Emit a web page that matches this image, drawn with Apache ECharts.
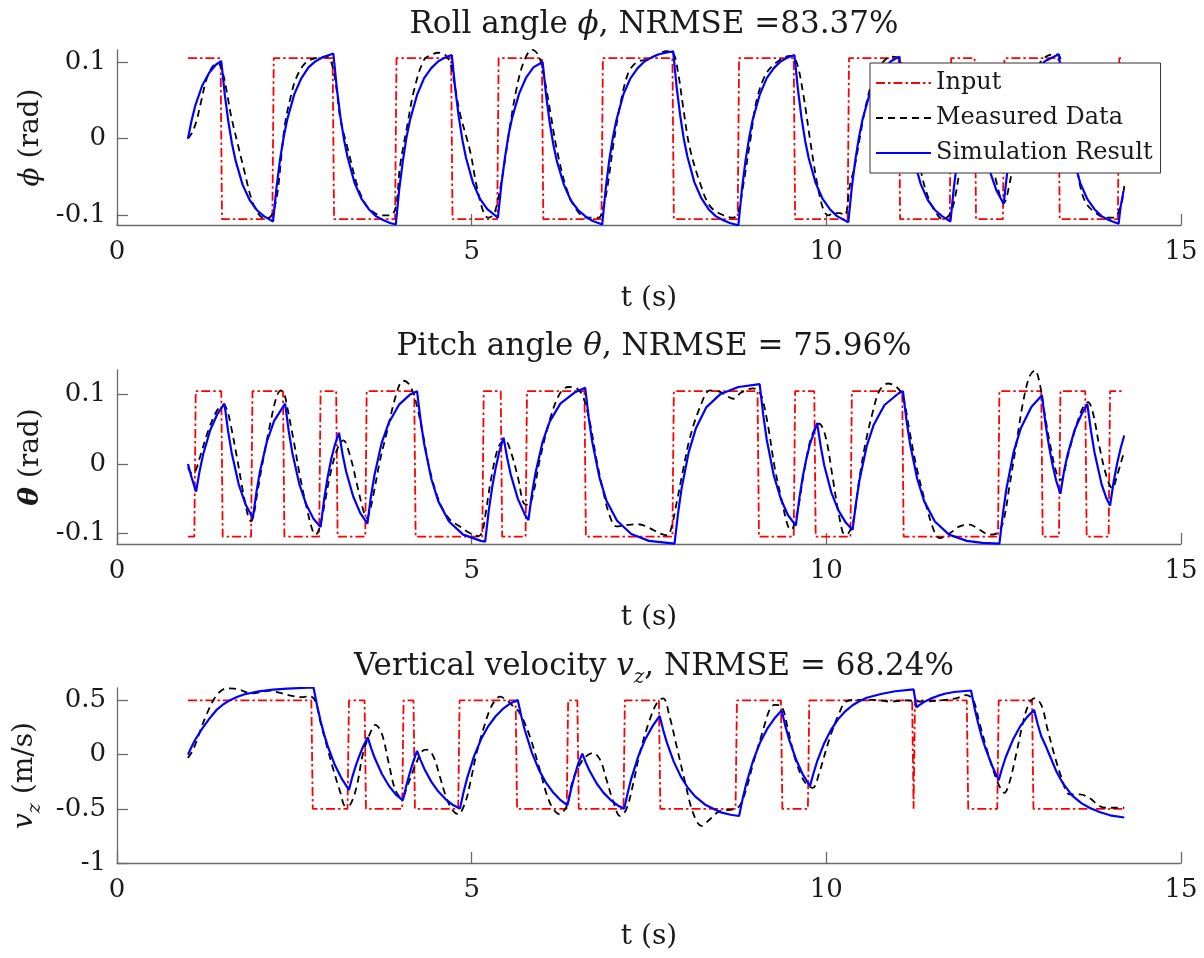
<!DOCTYPE html>
<html><head><meta charset="utf-8">
<script src="https://cdn.jsdelivr.net/npm/echarts@6/dist/echarts.min.js"></script>
<style>html,body{margin:0;padding:0;background:#fff}#c{width:1204px;height:958px}</style>
</head><body><div id="c"></div>
<script>
// ---------- data (t in s, value) ----------
const rollInput = [[1.0,0.105],[1.46,0.105],[1.48,-0.105],[2.19,-0.105],[2.21,0.105],[3.04,0.105],[3.06,-0.105],[3.92,-0.105],[3.94,0.105],[4.71,0.105],[4.73,-0.105],[5.36,-0.105],[5.38,0.105],[5.99,0.105],[6.01,-0.105],[6.83,-0.105],[6.85,0.105],[7.83,0.105],[7.85,-0.105],[8.75,-0.105],[8.77,0.105],[9.54,0.105],[9.56,-0.105],[10.30,-0.105],[10.32,0.105],[11.02,0.105],[11.04,-0.105],[11.74,-0.105],[11.76,0.105],[12.09,0.105],[12.11,-0.105],[12.49,-0.105],[12.51,0.105],[13.27,0.105],[13.29,-0.105],[14.11,-0.105],[14.13,0.105],[14.19,0.105]];
const rollMeasured = [[1.0,0],[1.06,0.008],[1.12,0.023],[1.19,0.05],[1.26,0.077],[1.34,0.093],[1.42,0.099],[1.49,0.086],[1.55,0.06],[1.61,0.029],[1.71,-0.01],[1.8,-0.044],[1.9,-0.08],[2.0,-0.099],[2.08,-0.104],[2.16,-0.102],[2.22,-0.09],[2.27,-0.065],[2.32,-0.02],[2.37,0.02],[2.45,0.055],[2.53,0.08],[2.66,0.099],[2.8,0.105],[2.95,0.107],[3.02,0.1],[3.09,0.068],[3.15,0.025],[3.25,-0.012],[3.39,-0.062],[3.5,-0.085],[3.6,-0.095],[3.72,-0.1],[3.85,-0.1],[3.93,-0.09],[3.99,-0.036],[4.09,0.016],[4.19,0.064],[4.33,0.103],[4.45,0.11],[4.53,0.112],[4.63,0.109],[4.7,0.098],[4.74,0.081],[4.835,0.033],[4.98,-0.017],[5.07,-0.062],[5.17,-0.097],[5.23,-0.103],[5.3,-0.1],[5.35,-0.088],[5.44,-0.045],[5.54,0.016],[5.63,0.064],[5.73,0.099],[5.85,0.116],[5.94,0.109],[6.01,0.086],[6.11,0.034],[6.2,-0.014],[6.34,-0.066],[6.48,-0.093],[6.62,-0.103],[6.79,-0.103],[6.86,-0.088],[6.93,-0.053],[7.0,-0.006],[7.1,0.047],[7.21,0.086],[7.33,0.1],[7.47,0.103],[7.61,0.109],[7.75,0.114],[7.84,0.112],[7.91,0.086],[7.98,0.042],[8.07,-0.01],[8.22,-0.058],[8.36,-0.088],[8.55,-0.1],[8.69,-0.103],[8.76,-0.095],[8.83,-0.06],[8.93,-0.001],[9.02,0.051],[9.16,0.086],[9.35,0.103],[9.49,0.108],[9.58,0.1],[9.68,0.055],[9.77,-0.001],[9.87,-0.058],[9.96,-0.093],[10.03,-0.1],[10.1,-0.097],[10.19,-0.097],[10.26,-0.1],[10.33,-0.062],[10.4,-0.036],[10.47,0.0],[10.55,0.04],[10.65,0.075],[10.78,0.098],[10.92,0.107],[11.02,0.105],[11.1,0.085],[11.2,0.035],[11.34,-0.045],[11.45,-0.08],[11.55,-0.097],[11.64,-0.105],[11.73,-0.1],[11.8,-0.083],[11.9,-0.03],[12.0,0.02],[12.1,0.05],[12.18,0.04],[12.28,-0.005],[12.38,-0.05],[12.5,-0.084],[12.6,-0.051],[12.7,0.0],[12.8,0.05],[12.95,0.09],[13.1,0.107],[13.25,0.11],[13.33,0.095],[13.43,0.04],[13.5,-0.01],[13.57,-0.058],[13.66,-0.084],[13.8,-0.097],[13.94,-0.103],[14.05,-0.103],[14.15,-0.088],[14.2,-0.062]];
const rollSim = [[1.0,0],[1.05,0.023],[1.1,0.042],[1.2,0.069],[1.3,0.086],[1.4,0.097],[1.47,0.101],[1.52,0.057],[1.57,0.022],[1.62,-0.006],[1.67,-0.028],[1.77,-0.060],[1.87,-0.080],[1.97,-0.093],[2.07,-0.101],[2.2,-0.108],[2.25,-0.063],[2.3,-0.026],[2.35,0.002],[2.4,0.025],[2.5,0.058],[2.6,0.079],[2.7,0.093],[2.8,0.101],[2.9,0.106],[3.05,0.111],[3.1,0.065],[3.15,0.028],[3.2,-0.001],[3.25,-0.024],[3.35,-0.058],[3.45,-0.079],[3.55,-0.092],[3.65,-0.101],[3.75,-0.106],[3.85,-0.11],[3.93,-0.112],[3.98,-0.065],[4.03,-0.029],[4.08,0.001],[4.13,0.024],[4.23,0.057],[4.33,0.079],[4.43,0.092],[4.53,0.101],[4.63,0.106],[4.72,0.109],[4.77,0.064],[4.82,0.027],[4.87,-0.002],[4.92,-0.025],[5.02,-0.058],[5.12,-0.079],[5.22,-0.092],[5.37,-0.103],[5.42,-0.059],[5.47,-0.024],[5.52,0.005],[5.57,0.027],[5.67,0.059],[5.77,0.08],[5.87,0.093],[6.0,0.1],[6.05,0.056],[6.1,0.021],[6.15,-0.007],[6.2,-0.029],[6.3,-0.06],[6.4,-0.081],[6.5,-0.093],[6.6,-0.101],[6.7,-0.107],[6.84,-0.112],[6.89,-0.065],[6.94,-0.028],[6.99,0.001],[7.04,0.024],[7.14,0.058],[7.24,0.079],[7.34,0.092],[7.44,0.101],[7.54,0.106],[7.64,0.11],[7.84,0.114],[7.89,0.067],[7.94,0.03],[7.99,0.0],[8.04,-0.023],[8.14,-0.057],[8.24,-0.078],[8.34,-0.092],[8.44,-0.101],[8.54,-0.106],[8.64,-0.11],[8.76,-0.113],[8.81,-0.066],[8.86,-0.029],[8.91,0.0],[8.96,0.024],[9.06,0.057],[9.16,0.079],[9.26,0.092],[9.36,0.101],[9.46,0.106],[9.55,0.109],[9.6,0.064],[9.65,0.027],[9.7,-0.002],[9.75,-0.025],[9.85,-0.058],[9.95,-0.079],[10.05,-0.092],[10.15,-0.101],[10.31,-0.109],[10.36,-0.063],[10.41,-0.027],[10.46,0.002],[10.51,0.025],[10.61,0.058],[10.71,0.079],[10.81,0.092],[10.91,0.101],[11.03,0.107],[11.08,0.062],[11.13,0.026],[11.18,-0.003],[11.23,-0.026],[11.33,-0.059],[11.43,-0.08],[11.53,-0.093],[11.63,-0.101],[11.75,-0.108],[11.8,-0.062],[11.85,-0.026],[11.9,0.003],[11.95,0.026],[12.0,0.044],[12.1,0.07],[12.15,0.032],[12.2,0.002],[12.25,-0.022],[12.3,-0.041],[12.4,-0.068],[12.5,-0.085],[12.55,-0.044],[12.6,-0.012],[12.65,0.014],[12.7,0.035],[12.8,0.064],[12.9,0.083],[13.0,0.095],[13.1,0.102],[13.28,0.11],[13.33,0.064],[13.38,0.028],[13.43,-0.002],[13.48,-0.025],[13.58,-0.058],[13.68,-0.079],[13.78,-0.092],[13.88,-0.101],[13.98,-0.106],[14.12,-0.111],[14.15,-0.088],[14.19,-0.068]];

const pitchInput = [[1.0,-0.105],[1.09,-0.105],[1.11,0.105],[1.47,0.105],[1.49,-0.105],[1.89,-0.105],[1.91,0.105],[2.34,0.105],[2.36,-0.105],[2.85,-0.105],[2.87,0.105],[3.09,0.105],[3.11,-0.105],[3.5,-0.105],[3.52,0.105],[4.19,0.105],[4.21,-0.105],[5.15,-0.105],[5.17,0.105],[5.41,0.105],[5.43,-0.105],[5.76,-0.105],[5.78,0.105],[6.59,0.105],[6.61,-0.105],[7.83,-0.105],[7.85,0.105],[9.03,0.105],[9.05,-0.105],[9.54,-0.105],[9.56,0.105],[9.83,0.105],[9.85,-0.105],[10.34,-0.105],[10.36,0.105],[11.07,0.105],[11.09,-0.105],[12.42,-0.105],[12.44,0.105],[13.03,0.105],[13.05,-0.105],[13.28,-0.105],[13.3,0.105],[13.65,0.105],[13.67,-0.105],[13.98,-0.105],[14.0,0.105],[14.2,0.105]];
const pitchMeasured = [[1.0,-0.005],[1.06,-0.014],[1.1,-0.012],[1.17,0.01],[1.29,0.049],[1.41,0.077],[1.5,0.085],[1.55,0.078],[1.6,0.058],[1.69,0.01],[1.78,-0.042],[1.85,-0.076],[1.89,-0.083],[1.93,-0.072],[1.97,-0.047],[2.06,0.006],[2.16,0.058],[2.25,0.097],[2.31,0.106],[2.36,0.1],[2.39,0.087],[2.49,0.034],[2.58,-0.018],[2.68,-0.066],[2.76,-0.097],[2.8,-0.102],[2.86,-0.09],[2.93,-0.056],[3.0,-0.018],[3.1,0.02],[3.19,0.034],[3.29,0.01],[3.38,-0.028],[3.47,-0.066],[3.52,-0.078],[3.56,-0.07],[3.61,-0.047],[3.71,0.006],[3.8,0.044],[3.9,0.087],[3.99,0.116],[4.04,0.12],[4.13,0.113],[4.22,0.087],[4.32,0.039],[4.41,-0.009],[4.55,-0.056],[4.69,-0.08],[4.83,-0.09],[4.98,-0.1],[5.1,-0.104],[5.15,-0.098],[5.19,-0.076],[5.28,-0.018],[5.38,0.025],[5.47,0.034],[5.56,0.015],[5.66,-0.023],[5.73,-0.056],[5.8,-0.059],[5.87,-0.042],[5.96,0.006],[6.1,0.063],[6.24,0.101],[6.36,0.111],[6.48,0.109],[6.57,0.097],[6.67,0.058],[6.76,0.006],[6.86,-0.042],[6.95,-0.076],[7.04,-0.09],[7.2,-0.088],[7.35,-0.087],[7.5,-0.092],[7.65,-0.1],[7.76,-0.103],[7.82,-0.09],[7.89,-0.056],[7.98,-0.009],[8.08,0.039],[8.22,0.082],[8.36,0.106],[8.5,0.104],[8.6,0.098],[8.69,0.094],[8.8,0.103],[8.97,0.109],[9.03,0.106],[9.09,0.097],[9.18,0.054],[9.27,-0.004],[9.37,-0.052],[9.46,-0.09],[9.51,-0.095],[9.55,-0.086],[9.6,-0.066],[9.69,-0.009],[9.79,0.039],[9.9,0.058],[9.99,0.039],[10.09,-0.02],[10.18,-0.075],[10.26,-0.102],[10.31,-0.1],[10.36,-0.09],[10.4,-0.071],[10.47,-0.018],[10.56,0.034],[10.66,0.077],[10.75,0.106],[10.87,0.116],[10.99,0.111],[11.08,0.097],[11.17,0.049],[11.27,-0.004],[11.41,-0.061],[11.53,-0.0995],[11.6,-0.107],[11.74,-0.1],[11.88,-0.09],[12.02,-0.0875],[12.16,-0.095],[12.3,-0.102],[12.4,-0.1],[12.49,-0.085],[12.58,-0.033],[12.68,0.03],[12.77,0.087],[12.86,0.125],[12.94,0.135],[13.0,0.12],[13.07,0.077],[13.17,0.02],[13.26,-0.018],[13.31,-0.023],[13.4,0.01],[13.52,0.054],[13.62,0.082],[13.69,0.089],[13.76,0.073],[13.85,0.025],[13.95,-0.018],[14.03,-0.035],[14.11,-0.013],[14.18,0.011],[14.2,0.015]];
const pitchSim = [[1.0,0],[1.05,-0.019],[1.115,-0.04],[1.165,-0.01],[1.215,0.014],[1.315,0.049],[1.415,0.072],[1.515,0.087],[1.565,0.048],[1.615,0.017],[1.715,-0.029],[1.815,-0.059],[1.915,-0.078],[1.965,-0.041],[2.015,-0.011],[2.115,0.033],[2.215,0.062],[2.37,0.087],[2.42,0.048],[2.47,0.017],[2.57,-0.029],[2.67,-0.059],[2.77,-0.079],[2.87,-0.091],[2.92,-0.051],[2.97,-0.019],[3.02,0.007],[3.07,0.027],[3.13,0.045],[3.18,0.014],[3.23,-0.011],[3.33,-0.047],[3.43,-0.071],[3.53,-0.086],[3.58,-0.047],[3.63,-0.016],[3.73,0.03],[3.83,0.059],[3.98,0.086],[4.13,0.1],[4.23,0.105],[4.28,0.063],[4.33,0.029],[4.43,-0.021],[4.53,-0.054],[4.68,-0.083],[4.88,-0.102],[5.13,-0.111],[5.19,-0.112],[5.24,-0.068],[5.29,-0.033],[5.34,-0.005],[5.39,0.018],[5.45,0.038],[5.5,0.009],[5.55,-0.015],[5.65,-0.05],[5.75,-0.073],[5.8,-0.081],[5.85,-0.043],[5.9,-0.013],[6.0,0.032],[6.1,0.061],[6.25,0.087],[6.45,0.103],[6.6,0.11],[6.65,0.067],[6.7,0.032],[6.8,-0.019],[6.9,-0.053],[7.05,-0.082],[7.25,-0.101],[7.5,-0.111],[7.86,-0.115],[7.91,-0.071],[7.96,-0.035],[8.06,0.017],[8.16,0.051],[8.31,0.082],[8.51,0.101],[8.76,0.111],[9.06,0.115],[9.11,0.071],[9.16,0.035],[9.26,-0.017],[9.36,-0.051],[9.46,-0.074],[9.57,-0.089],[9.62,-0.049],[9.67,-0.017],[9.72,0.008],[9.77,0.029],[9.87,0.059],[9.92,0.026],[9.97,-0.002],[10.07,-0.041],[10.17,-0.067],[10.27,-0.084],[10.37,-0.095],[10.42,-0.055],[10.47,-0.022],[10.57,0.026],[10.67,0.057],[10.82,0.085],[11.02,0.102],[11.08,0.105],[11.13,0.063],[11.18,0.029],[11.28,-0.021],[11.38,-0.054],[11.53,-0.083],[11.73,-0.102],[11.98,-0.111],[12.2,-0.114],[12.44,-0.115],[12.49,-0.071],[12.54,-0.035],[12.64,0.017],[12.74,0.051],[12.89,0.082],[13.04,0.099],[13.09,0.058],[13.14,0.025],[13.19,-0.002],[13.24,-0.024],[13.3,-0.043],[13.35,-0.011],[13.4,0.013],[13.5,0.049],[13.6,0.072],[13.68,0.086],[13.73,0.048],[13.78,0.017],[13.88,-0.029],[13.95,-0.05],[14.0,-0.06],[14.05,-0.026],[14.1,0.001],[14.15,0.023],[14.2,0.041]];

const vzInput = [[1.0,0.5],[2.74,0.5],[2.76,-0.5],[3.25,-0.5],[3.27,0.5],[3.49,0.5],[3.51,-0.5],[4.02,-0.5],[4.04,0.5],[4.18,0.5],[4.2,-0.5],[4.81,-0.5],[4.83,0.5],[5.62,0.5],[5.64,-0.5],[6.34,-0.5],[6.36,0.5],[6.49,0.5],[6.51,-0.5],[7.14,-0.5],[7.16,0.5],[7.64,0.5],[7.66,-0.5],[8.72,-0.5],[8.74,0.5],[9.36,0.5],[9.38,-0.5],[9.74,-0.5],[9.76,0.5],[11.21,0.5],[11.23,-0.5],[11.25,0.5],[11.98,0.5],[12.0,-0.5],[12.41,-0.5],[12.43,0.5],[12.9,0.5],[12.92,-0.5],[14.2,-0.5]];
const vzMeasured = [[1.0,-0.03],[1.06,0.03],[1.13,0.138],[1.2,0.27],[1.27,0.382],[1.36,0.505],[1.45,0.58],[1.55,0.612],[1.65,0.61],[1.74,0.596],[1.85,0.57],[1.92,0.566],[2.05,0.58],[2.16,0.59],[2.3,0.57],[2.45,0.545],[2.6,0.53],[2.72,0.54],[2.8,0.49],[2.86,0.321],[2.96,0.076],[3.05,-0.138],[3.15,-0.352],[3.22,-0.474],[3.29,-0.459],[3.38,-0.29],[3.47,0.015],[3.57,0.2],[3.64,0.275],[3.73,0.2],[3.83,-0.076],[3.92,-0.32],[4.01,-0.4],[4.11,-0.26],[4.2,-0.107],[4.3,0.03],[4.37,0.046],[4.46,-0.015],[4.55,-0.2],[4.65,-0.41],[4.74,-0.52],[4.81,-0.55],[4.91,-0.44],[4.98,-0.26],[5.07,0.015],[5.19,0.29],[5.26,0.42],[5.33,0.5],[5.4,0.535],[5.49,0.505],[5.58,0.45],[5.68,0.382],[5.82,0.168],[5.96,-0.138],[6.1,-0.44],[6.24,-0.55],[6.34,-0.474],[6.43,-0.23],[6.57,-0.046],[6.71,0.015],[6.81,-0.046],[6.9,-0.23],[7.0,-0.44],[7.09,-0.566],[7.18,-0.505],[7.28,-0.26],[7.37,0.015],[7.51,0.321],[7.61,0.474],[7.7,0.52],[7.79,0.352],[7.89,0.076],[8.0,-0.23],[8.12,-0.535],[8.24,-0.658],[8.36,-0.596],[8.5,-0.52],[8.69,-0.505],[8.78,-0.47],[8.87,-0.32],[8.97,-0.076],[9.11,0.23],[9.2,0.413],[9.27,0.459],[9.37,0.443],[9.46,0.23],[9.55,-0.015],[9.65,-0.2],[9.73,-0.28],[9.81,-0.306],[9.9,-0.168],[10.04,0.138],[10.18,0.382],[10.28,0.49],[10.42,0.505],[10.66,0.505],[10.89,0.49],[11.13,0.5],[11.36,0.49],[11.6,0.5],[11.83,0.52],[11.97,0.55],[12.07,0.505],[12.16,0.29],[12.25,0.076],[12.35,-0.138],[12.44,-0.29],[12.51,-0.352],[12.58,-0.26],[12.68,0.015],[12.77,0.29],[12.84,0.443],[12.93,0.52],[13.03,0.459],[13.12,0.23],[13.22,-0.015],[13.31,-0.2],[13.43,-0.367],[13.57,-0.367],[13.71,-0.4],[13.85,-0.474],[13.94,-0.49],[14.08,-0.49],[14.2,-0.49]];
const vzSim = [[1.0,0],[1.05,0.07],[1.1,0.135],[1.2,0.24],[1.3,0.33],[1.4,0.41],[1.5,0.465],[1.6,0.505],[1.7,0.535],[1.8,0.557],[2.0,0.584],[2.2,0.6],[2.4,0.609],[2.77,0.62],[2.82,0.455],[2.87,0.311],[2.92,0.187],[2.97,0.081],[3.07,-0.094],[3.17,-0.224],[3.27,-0.325],[3.32,-0.2],[3.37,-0.095],[3.42,-0.005],[3.47,0.075],[3.535,0.16],[3.585,0.056],[3.635,-0.034],[3.735,-0.179],[3.835,-0.289],[3.935,-0.371],[4.03,-0.422],[4.08,-0.283],[4.13,-0.163],[4.18,-0.058],[4.23,0.035],[4.28,-0.05],[4.33,-0.127],[4.43,-0.249],[4.53,-0.341],[4.63,-0.41],[4.73,-0.462],[4.835,-0.497],[4.885,-0.348],[4.935,-0.219],[5.035,-0.011],[5.135,0.146],[5.235,0.264],[5.335,0.352],[5.435,0.419],[5.535,0.469],[5.65,0.505],[5.7,0.355],[5.75,0.225],[5.85,0.016],[5.95,-0.143],[6.05,-0.261],[6.15,-0.35],[6.25,-0.418],[6.35,-0.468],[6.4,-0.323],[6.45,-0.197],[6.5,-0.088],[6.56,0.01],[6.61,-0.074],[6.66,-0.147],[6.76,-0.264],[6.86,-0.353],[6.96,-0.419],[7.06,-0.469],[7.15,-0.5],[7.2,-0.351],[7.25,-0.221],[7.35,-0.013],[7.45,0.145],[7.55,0.263],[7.65,0.358],[7.7,0.228],[7.75,0.115],[7.85,-0.067],[7.95,-0.205],[8.05,-0.308],[8.15,-0.385],[8.3,-0.465],[8.5,-0.53],[8.65,-0.555],[8.77,-0.566],[8.82,-0.408],[8.87,-0.271],[8.97,-0.05],[9.07,0.117],[9.17,0.242],[9.27,0.335],[9.37,0.407],[9.42,0.27],[9.47,0.151],[9.57,-0.04],[9.67,-0.185],[9.77,-0.29],[9.82,-0.169],[9.87,-0.063],[9.97,0.106],[10.07,0.234],[10.17,0.33],[10.27,0.402],[10.37,0.456],[10.47,0.495],[10.57,0.525],[10.77,0.56],[10.97,0.585],[11.23,0.602],[11.27,0.437],[11.32,0.461],[11.37,0.483],[11.47,0.517],[11.57,0.542],[11.67,0.562],[11.8,0.578],[12.04,0.592],[12.09,0.429],[12.14,0.289],[12.19,0.168],[12.24,0.064],[12.34,-0.107],[12.43,-0.235],[12.48,-0.121],[12.53,-0.022],[12.63,0.137],[12.73,0.258],[12.83,0.347],[12.93,0.413],[12.98,0.28],[13.03,0.17],[13.1,0.07],[13.17,-0.04],[13.24,-0.15],[13.33,-0.26],[13.47,-0.38],[13.6,-0.45],[13.71,-0.49],[13.85,-0.53],[14.0,-0.56],[14.2,-0.58]];

const xTicks = [0, 5, 10, 15];
const angleTicks = [-0.1, 0, 0.1];
const vzTicks = [-1, -0.5, 0, 0.5];
const seriesNames = ['Input', 'Measured Data', 'Simulation Result'];
const titleTexts = ['Roll angle {i|ϕ}, NRMSE =83.37%', 'Pitch angle {i|θ}, NRMSE = 75.96%', 'Vertical velocity {i|v}{s|z}, NRMSE = 68.24%'];
const yNames = ['{i|ϕ} (rad)', '{b|θ} (rad)', '{i|v}{s|z} (m/s)'];
const xName = 't (s)';
const yRanges = [[-0.1126, 0.1156], [-0.1155, 0.1355], [-1, 0.615]];

// ---------- chart ----------
const FONT = 'DejaVu Serif';
const TXT = '#1a1a1a';
const AX = '#6a6a6a';
const grids = [
  {left: 117, top: 50, width: 1064, height: 175},
  {left: 117, top: 370, width: 1064, height: 174},
  {left: 117, top: 688, width: 1064, height: 175}
];
const titleTops = [4, 326, 641];
const richT = {
  i: {fontFamily: FONT, fontStyle: 'italic', fontSize: 31, color: TXT},
  b: {fontFamily: FONT, fontStyle: 'italic', fontWeight: 'bold', fontSize: 31, color: TXT},
  s: {fontFamily: FONT, fontStyle: 'italic', fontSize: 20, color: TXT, verticalAlign: 'bottom', lineHeight: 42}
};
const richN = {
  i: {fontFamily: FONT, fontStyle: 'italic', fontSize: 28, color: TXT},
  b: {fontFamily: FONT, fontStyle: 'italic', fontWeight: 'bold', fontSize: 28, color: TXT},
  s: {fontFamily: FONT, fontStyle: 'italic', fontSize: 19, color: TXT, verticalAlign: 'bottom', lineHeight: 40}
};
const allTicks = [angleTicks, angleTicks, vzTicks];
const dataSets = [[rollInput, rollMeasured, rollSim], [pitchInput, pitchMeasured, pitchSim], [vzInput, vzMeasured, vzSim]];
const styles = [
  {color: '#ff0000', width: 1.8, type: [9, 3, 2.5, 3]},
  {color: '#000000', width: 1.8, type: [7, 5]},
  {color: '#0000ff', width: 2.2}
];

const xAxes = [], yAxes = [], series = [], titles = [];
for (let k = 0; k < 3; k++) {
  titles.push({
    text: titleTexts[k], left: 649, top: titleTops[k], textAlign: 'center',
    textStyle: {fontFamily: FONT, fontSize: 31, fontWeight: 'normal', color: TXT, rich: richT}
  });
  xAxes.push({
    type: 'value', gridIndex: k, min: 0, max: 15, interval: 5,
    name: xName, nameLocation: 'middle', nameGap: 60,
    nameTextStyle: {fontFamily: FONT, fontSize: 28, color: TXT},
    axisLine: {show: true, onZero: false, lineStyle: {color: AX, width: 1.3}},
    axisTick: {show: true, inside: true, length: 11, lineStyle: {color: AX, width: 1.3}},
    axisLabel: {fontFamily: FONT, fontSize: 26, color: TXT, margin: 14,
      customValues: xTicks, formatter: v => String(v)},
    splitLine: {show: false}
  });
  yAxes.push({
    type: 'value', gridIndex: k, min: yRanges[k][0], max: yRanges[k][1],
    name: yNames[k], nameLocation: 'middle', nameGap: 70, nameRotate: 90,
    nameTextStyle: {fontFamily: FONT, fontSize: 28, color: TXT, rich: richN},
    axisLine: {show: true, onZero: false, lineStyle: {color: AX, width: 1.3}},
    axisTick: {show: true, inside: true, length: 11, customValues: allTicks[k], lineStyle: {color: AX, width: 1.3}},
    axisLabel: {fontFamily: FONT, fontSize: 26, color: TXT, margin: 11,
      customValues: allTicks[k], formatter: v => String(v)},
    splitLine: {show: false}
  });
  for (let j = 0; j < 3; j++) {
    series.push({
      name: seriesNames[j], type: 'line', xAxisIndex: k, yAxisIndex: k,
      data: dataSets[k][j], showSymbol: false, symbol: 'none',
      smooth: j === 1 ? 0.35 : false, color: styles[j].color,
      lineStyle: styles[j], z: 2 + j, animation: false
    });
  }
}

const chart = echarts.init(document.getElementById('c'), null, {renderer: 'canvas', width: 1204, height: 958});
chart.setOption({
  animation: false,
  backgroundColor: '#ffffff',
  title: titles,
  grid: grids,
  xAxis: xAxes,
  yAxis: yAxes,
  legend: {
    data: seriesNames, orient: 'vertical', left: 870, top: 63,
    itemWidth: 55, itemHeight: 14, itemGap: 11, padding: [8, 8, 8, 5],
    itemStyle: {opacity: 0},
    borderColor: '#333333', borderWidth: 1, backgroundColor: '#ffffff', borderRadius: 0,
    textStyle: {fontFamily: FONT, fontSize: 24, color: TXT}, z: 10
  },
  series: series
});
</script>
</body></html>
